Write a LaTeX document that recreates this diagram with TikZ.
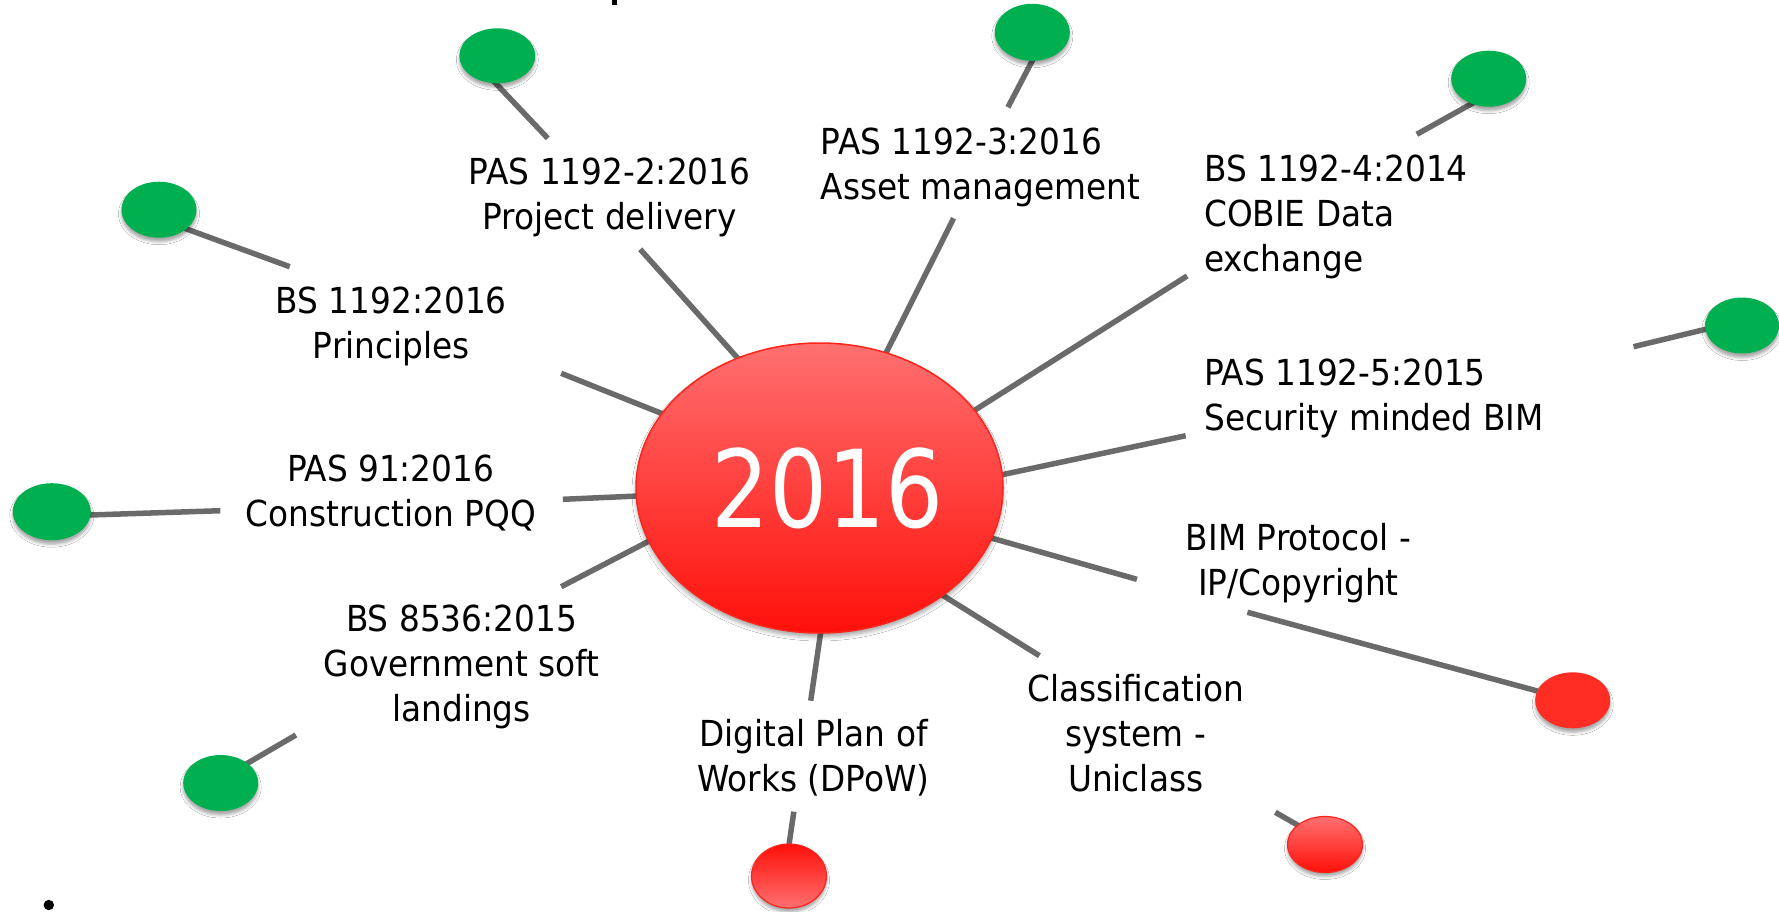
\documentclass[tikz,border=0pt]{standalone}
\usepackage{fontspec}
\setmainfont{DejaVu Sans}[FakeStretch=0.915]
\newfontfamily\bigfont{DejaVu Sans}[FakeStretch=0.85]
\usetikzlibrary{shapes.geometric,shadows.blur}
\definecolor{bimgreen}{RGB}{0,176,80}
\definecolor{linegray}{RGB}{106,106,106}
\definecolor{lightred}{RGB}{255,112,112}
\definecolor{deepred}{RGB}{255,16,10}
\definecolor{rimred}{RGB}{255,36,28}
\definecolor{flatred}{RGB}{255,45,35}
\begin{document}
\begin{tikzpicture}[x=1pt,y=-1pt,
  conn/.style={line width=5.5pt, draw=linegray},
  bub/.style={ellipse, inner sep=0pt, minimum width=75pt, minimum height=56pt,
    blur shadow={shadow xshift=0pt, shadow yshift=-4pt, shadow blur radius=3pt, shadow opacity=35}},
  greenbub/.style={bub, fill=bimgreen},
  lab/.style={font=\fontsize{35.8}{45}\selectfont, inner sep=0pt, anchor=base, align=center},
  labl/.style={lab, anchor=base west, align=left}]
\useasboundingbox (0,0) rectangle (1779,911);
\fill[white] (0,0) rectangle (1779,911);

% fragment of cropped title and bullet
\fill[black] (612.3,0) rectangle (617.3,4.5);
\fill[black] (48.8,905) circle (5.2);

% connector end points
\coordinate (o1a) at (547.8,138.3);  \coordinate (o1b) at (490.4,77.7);
\coordinate (o2a) at (289.7,266.7);  \coordinate (o2b) at (175.4,224.9);
\coordinate (o3a) at (1007.9,107.3); \coordinate (o3b) at (1036.9,51.8);
\coordinate (o4a) at (1416.8,134.3); \coordinate (o4b) at (1479.9,99.1);
\coordinate (o5a) at (1633.5,346.7); \coordinate (o5b) at (1715,327);
\coordinate (o6a) at (220.4,510.7);  \coordinate (o6b) at (80.8,515.3);
\coordinate (o7a) at (295.9,735);    \coordinate (o7b) at (238.8,768.3);
\coordinate (o8a) at (793.8,811.7);  \coordinate (o8b) at (787.8,853);
\coordinate (o9a) at (1275.3,812.3); \coordinate (o9b) at (1308,831);
\coordinate (o10a) at (1247.4,612.3); \coordinate (o10b) at (1549.5,694.3);

\coordinate (i1a) at (640.2,249.3);  \coordinate (i1b) at (742,363);
\coordinate (i2a) at (561.2,373.3);  \coordinate (i2b) at (668,416);
\coordinate (i3a) at (953.6,218.3);  \coordinate (i3b) at (883,359);
\coordinate (i4a) at (1187.1,276);   \coordinate (i4b) at (975,410);
\coordinate (i5a) at (1185.7,435.7); \coordinate (i5b) at (996,476);
\coordinate (i6a) at (562.8,499.3);  \coordinate (i6b) at (645,495.7);
\coordinate (i7a) at (561.2,586.7);  \coordinate (i7b) at (654,538.5);
\coordinate (i8a) at (810.7,700.7);  \coordinate (i8b) at (821.4,627.4);
\coordinate (i9a) at (1039.4,655.7); \coordinate (i9b) at (938,592.3);
\coordinate (i10a) at (1136.9,579.3); \coordinate (i10b) at (986,536.5);

\foreach \k in {1,...,10}{
  \draw[conn] (o\k a) -- (o\k b);
  \draw[conn] (i\k a) -- (i\k b);
}

% small bubbles
\node[greenbub, minimum width=76pt, minimum height=55pt] (g1) at (497.3,55.8) {};
\node[greenbub] (g2) at (159,209.7) {};
\node[greenbub, minimum height=57pt] (g3) at (1032.3,32.3) {};
\node[greenbub] (g4) at (1488.7,78.7) {};
\node[greenbub, minimum width=74pt] (g5) at (1742,325.5) {};
\node[greenbub, minimum width=78pt, minimum height=57pt] (g6) at (51.8,511.7) {};
\node[greenbub] (g7) at (220.7,783) {};
\node[bub, minimum height=64pt, top color=deepred, bottom color=lightred, draw=rimred, line width=1.2pt] (r1) at (789,876) {};
\node[bub, top color=lightred, bottom color=deepred, draw=rimred, line width=1.2pt] (r2) at (1325,844.5) {};
\node[bub, fill=flatred] (r3) at (1572.7,700.3) {};

% central bubble
\node[ellipse, inner sep=0pt, minimum width=367pt, minimum height=290pt,
  top color=lightred, bottom color=deepred, draw=rimred, line width=1.5pt,
  blur shadow={shadow xshift=0pt, shadow yshift=-4pt, shadow blur radius=4pt, shadow opacity=35},
  text=white, font=\bigfont\fontsize{107.4}{120}\selectfont] (c) at (819.5,488) {\hspace*{16pt}2016};

% labels (anchor = baseline of the last line)
\node[lab] (t1) at (609.6,229.8) {PAS 1192-2:2016\\Project delivery};
\node[lab] (t2) at (391.3,358.3) {BS 1192:2016\\Principles};
\node[labl] (t3) at (820.5,199.3) {PAS 1192-3:2016\\Asset management};
\node[labl] (t4) at (1204,271) {BS 1192-4:2014\\COBIE Data\\exchange};
\node[labl] (t5) at (1204,430) {PAS 1192-5:2015\\Security minded BIM};
\node[lab] (t6) at (390.7,526.7) {PAS 91:2016\\Construction PQQ};
\node[lab] (t7) at (461.5,721) {BS 8536:2015\\Government soft\\landings};
\node[lab] (t8) at (813.5,791.7) {Digital Plan of\\Works (DPoW)};
\node[lab] (t9) at (1135.6,791.7) {Classification\\system -\\Uniclass};
\node[lab] (t10) at (1298.5,595) {BIM Protocol -\\IP/Copyright};
\end{tikzpicture}
\end{document}
